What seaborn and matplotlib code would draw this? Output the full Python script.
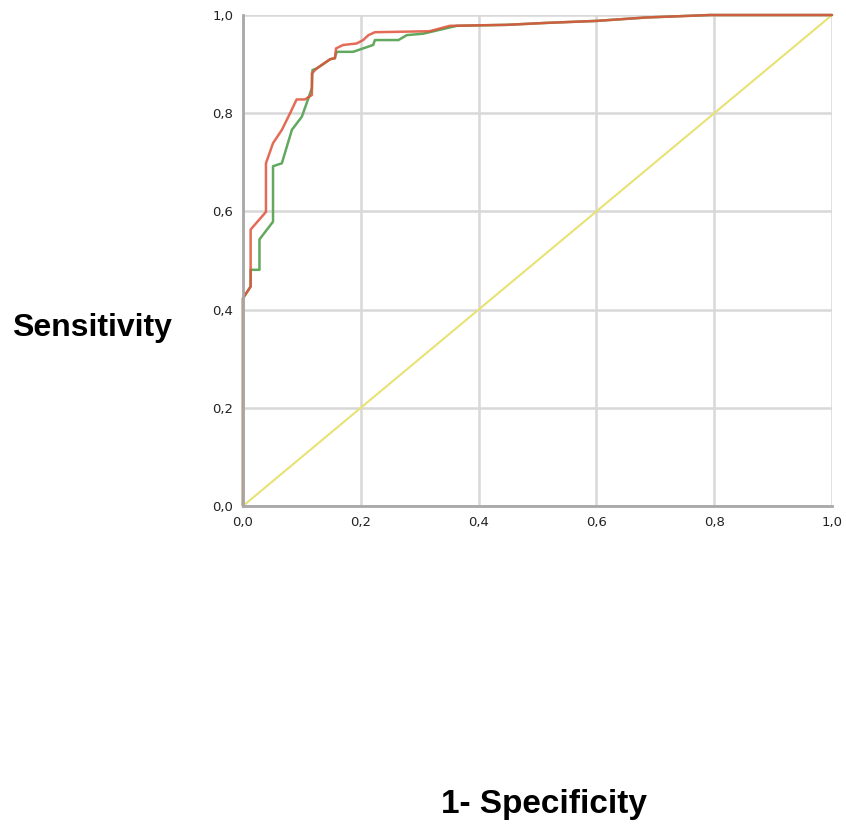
import pandas as pd
import matplotlib
matplotlib.use("Agg")
import matplotlib.pyplot as plt
import matplotlib.ticker as mticker
import seaborn as sns

# ROC curve points (1 - specificity, sensitivity)
red_x = [0, 0, 0.013, 0.013, 0.039, 0.039, 0.051, 0.066, 0.080, 0.091, 0.105,
         0.117, 0.117, 0.125, 0.142, 0.148, 0.156, 0.158, 0.170, 0.193, 0.204,
         0.213, 0.224, 0.317, 0.351, 0.448, 0.516, 0.600, 0.685, 0.793, 1.0]
red_y = [0, 0.423, 0.447, 0.563, 0.599, 0.698, 0.739, 0.766, 0.800, 0.828, 0.828,
         0.837, 0.881, 0.891, 0.905, 0.910, 0.912, 0.932, 0.939, 0.942, 0.949,
         0.959, 0.965, 0.967, 0.978, 0.980, 0.984, 0.988, 0.995, 1.0, 1.0]

green_x = [0, 0, 0.013, 0.013, 0.028, 0.028, 0.051, 0.051, 0.066, 0.083, 0.100,
           0.108, 0.117, 0.118, 0.125, 0.142, 0.148, 0.156, 0.159, 0.187, 0.204,
           0.221, 0.224, 0.264, 0.278, 0.306, 0.363, 0.448, 0.516, 0.600, 0.685,
           0.793, 1.0]
green_y = [0, 0.423, 0.447, 0.481, 0.481, 0.543, 0.579, 0.692, 0.698, 0.766, 0.793,
           0.820, 0.851, 0.888, 0.891, 0.905, 0.910, 0.912, 0.925, 0.925, 0.932,
           0.939, 0.949, 0.949, 0.959, 0.962, 0.978, 0.980, 0.984, 0.988, 0.995,
           1.0, 1.0]

ref_x = [0, 1]
ref_y = [0, 1]

ticks = [0, 0.2, 0.4, 0.6, 0.8, 1.0]

sns.set_style("white")
plt.rcParams["font.family"] = ["Liberation Sans", "DejaVu Sans"]

fig = plt.figure(figsize=(8.46, 8.25), dpi=100)
ax = fig.add_axes([0.2872, 0.3867, 0.6963, 0.5951])

df_green = pd.DataFrame({"x": green_x, "y": green_y})
df_red = pd.DataFrame({"x": red_x, "y": red_y})
df_ref = pd.DataFrame({"x": ref_x, "y": ref_y})

sns.lineplot(data=df_ref, x="x", y="y", ax=ax, color="#e8e274", lw=1.5,
             sort=False, estimator=None, clip_on=False)
sns.lineplot(data=df_green, x="x", y="y", ax=ax, color="#62a85e", lw=1.8,
             sort=False, estimator=None, clip_on=False)
sns.lineplot(data=df_red, x="x", y="y", ax=ax, color="#e0523a", lw=1.8,
             alpha=0.85, sort=False, estimator=None, clip_on=False)

ax.set_xlim(0, 1)
ax.set_ylim(0, 1)
ax.set_xticks(ticks)
ax.set_yticks(ticks)
fmt = mticker.FuncFormatter(lambda v, p: f"{v:.1f}".replace(".", ","))
ax.xaxis.set_major_formatter(fmt)
ax.yaxis.set_major_formatter(fmt)
ax.tick_params(axis="both", length=0, labelsize=9.5, labelcolor="#222222",
               pad=7)
for lbl in ax.get_xticklabels() + ax.get_yticklabels():
    lbl.set_fontfamily("DejaVu Sans")
ax.set_xlabel("")
ax.set_ylabel("")
ax.grid(True, color="#d8d8d8", lw=1.8)
ax.set_axisbelow(True)

for side in ["top", "right"]:
    ax.spines[side].set_visible(False)
for side in ["left", "bottom"]:
    ax.spines[side].set_color("#a8a8a8")
    ax.spines[side].set_linewidth(2)

fig.text(92 / 846, 1 - 328 / 825, "Sensitivity", fontsize=23,
         fontweight="bold", ha="center", va="center", color="black")
fig.text(544 / 846, 1 - 805 / 825, "1- Specificity", fontsize=24,
         fontweight="bold", ha="center", va="center", color="black")

fig.savefig("out.png", dpi=100)
